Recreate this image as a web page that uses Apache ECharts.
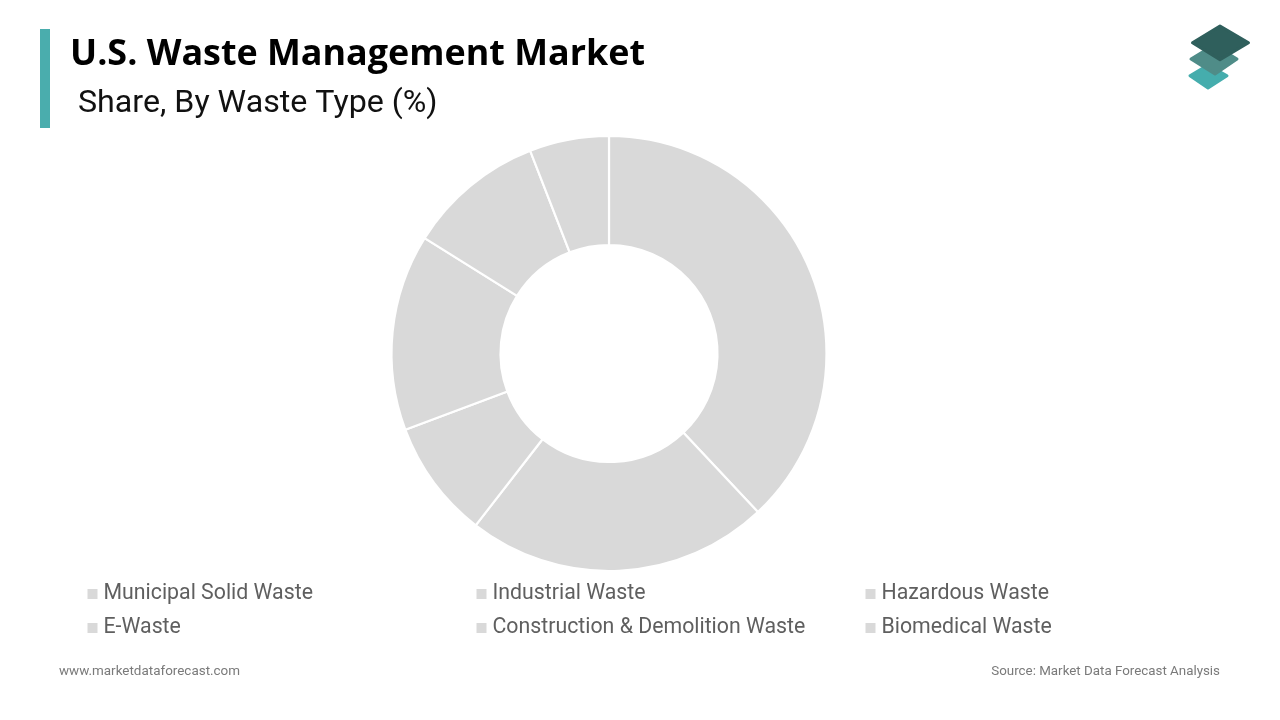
<!DOCTYPE html>
<html lang="en">
<head>
    <meta charset="UTF-8">
    <title>U.S. Waste Management Market</title>
    <style>
        html,body{margin:0;padding:0;background:#fff;}
        #mychart{width:1280px;height:720px;}
    </style>
</head>
<body>
    <div id="mychart"></div>
    <script src="https://cdnjs.cloudflare.com/ajax/libs/echarts/6.0.0/echarts.min.js"></script>
    <script>
        var categories=['Municipal Solid Waste','Industrial Waste','Hazardous Waste','E-Waste','Construction & Demolition Waste','Biomedical Waste']
        var shares=[38,22.5,8.8,14.6,10.2,5.9]
        var legendColumns=[
            ['Municipal Solid Waste','E-Waste'],
            ['Industrial Waste','Construction & Demolition Waste'],
            ['Hazardous Waste','Biomedical Waste']
        ]
        var legendLeft=[85.5,474.5,863.5]

        var myChart=echarts.init(document.getElementById('mychart'),null,{renderer:'canvas'})

        var logoStroke=function(color){//rounded corners on the logo layers
            return {fill:color,stroke:color,lineWidth:3,lineJoin:'round'}
        }

        var option={
            animation:false,
            backgroundColor:'#fff',
            title:[
                {text:'U.S. Waste Management Market',left:70,top:37,padding:0,
                    textStyle:{fontFamily:'Open Sans',fontSize:35.9,fontWeight:'bold',color:'#000'}},
                {text:'Share, By Waste Type (%)',left:78,top:88,padding:0,
                    textStyle:{fontFamily:'Roboto',fontSize:32.2,fontWeight:'normal',color:'#111'}},
                {text:'www.marketdataforecast.com',left:59,top:665,padding:0,
                    textStyle:{fontFamily:'Roboto',fontSize:13.45,fontWeight:'normal',color:'#7a7a7a'}},
                {text:'Source: Market Data Forecast Analysis',right:60,top:665,padding:0,
                    textStyle:{fontFamily:'Roboto',fontSize:13.35,fontWeight:'normal',color:'#7a7a7a'}}
            ],
            legend:legendColumns.map(function(col,i){//three columns, two rows
                return {
                    data:col,
                    orient:'vertical',
                    left:legendLeft[i],
                    top:582,
                    padding:0,
                    icon:'rect',
                    itemWidth:12,
                    itemHeight:12,
                    itemGap:10,
                    selectedMode:false,
                    textStyle:{fontFamily:'Roboto',fontSize:21.3,color:'#5f5f5f',height:24,lineHeight:24,padding:[0,0,0,0]}
                }
            }),
            series:[{
                type:'pie',
                center:[609,353.5],
                radius:[108.5,217.5],
                startAngle:90,
                clockwise:true,
                silent:true,
                label:{show:false},
                labelLine:{show:false},
                itemStyle:{color:'#d9d9d9',borderColor:'#fff',borderWidth:2.2},
                data:categories.map(function(name,i){
                    return {name:name,value:shares[i]}
                })
            }],
            graphic:[
                {type:'rect',shape:{x:40,y:29,width:10,height:99},style:{fill:'#4aadad'}},
                {type:'polygon',shape:{points:[[1208,65],[1227,75.7],[1208,88],[1190,75.7]]},style:logoStroke('#45adad')},
                {type:'polygon',shape:{points:[[1214,45],[1237,59],[1215,74],[1191,59]]},style:logoStroke('#4f8c88')},
                {type:'polygon',shape:{points:[[1220,26],[1248.5,42.7],[1220,59.7],[1192.5,42.7]]},style:logoStroke('#2f5f5c')}
            ]
        }
        myChart.setOption(option)
    </script>
</body>
</html>
